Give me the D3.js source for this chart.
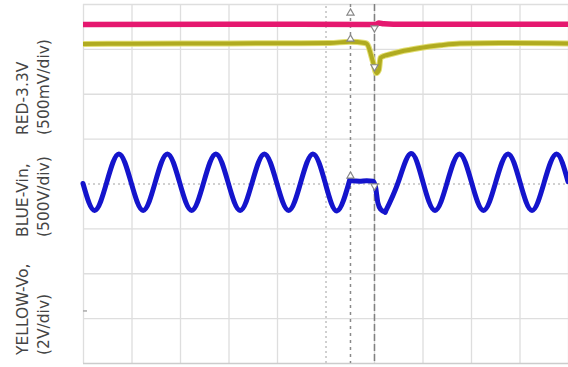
<!DOCTYPE html>
<html><head><meta charset="utf-8">
<script src="https://cdn.jsdelivr.net/npm/d3@7"></script>
<style>html,body{margin:0;padding:0;background:#fff;}</style>
</head><body>
<svg id="c" width="568" height="367"></svg>
<script>
// ---- data (x in horizontal divisions 0..10, y in vertical divisions -4..4) ----
const xDivs = [0,1,2,3,4,5,6,7,8,9,10];
const yDivs = [-4,-3,-2,-1,0,1,2,3,4];
const cursorX = [5.515, 6.01];
const labelLine1 = ["YELLOW-Vo,", "BLUE-Vin,", "RED-3.3V"];
const labelLine2 = ["(2V/div)", "(500V/div)", "(500mV/div)"];

const redTrace = [[0,3.545],[3,3.55],[5.9,3.545],[6.05,3.55],[6.1,3.575],[6.2,3.56],[6.4,3.55],[8,3.55],[10,3.55]];
const yellowTrace = [[0,3.11],[1,3.115],[2.41,3.12],[4,3.125],[5.09,3.13],[5.5,3.16],[5.81,3.13],[5.856,3.11],
  [5.979,2.71],[6.05,2.46],[6.1,2.53],[6.134,2.8],[6.2,2.84],[6.27,2.863],[6.536,2.937],[6.948,3.02],
  [7.36,3.08],[7.77,3.12],[8.6,3.13],[10,3.12]];
const blueBefore = [[0,0.0],[0.24,-0.60],[0.49,0.03],[0.74,0.66],[0.99,0.03],[1.24,-0.60],[1.49,0.03],[1.74,0.66],
  [1.99,0.03],[2.24,-0.60],[2.49,0.03],[2.74,0.66],[2.99,0.03],[3.24,-0.60],[3.49,0.03],[3.74,0.66],[3.99,0.03],
  [4.24,-0.60],[4.49,0.03],[4.74,0.66],[4.99,0.03],[5.24,-0.61],[5.515,0.14]];
const blueDip = [[5.515,0.14],[5.55,0.06],[5.7,0.05],[5.85,0.06],[5.98,0.05],[6.03,-0.07],[6.08,-0.43],[6.14,-0.58],[6.23,-0.64]];
const blueAfter = [[6.23,-0.64],[6.5,0.03],[6.763,0.67],[7.01,0.03],[7.258,-0.60],[7.51,0.03],[7.763,0.66],[8.01,0.03],
  [8.258,-0.60],[8.51,0.03],[8.763,0.66],[9.01,0.03],[9.258,-0.60],[9.51,0.03],[9.763,0.66],[10,0.04]];
const markers1 = [3.80, 3.22, 0.167];
const markers2 = [3.465, 2.60, -0.056];

// ---- drawing ----
const svg = d3.select("#c");
const x = d3.scaleLinear().domain([0,10]).range([83,568]);
const y = d3.scaleLinear().domain([-4,4]).range([363,4]);

svg.append("rect").attr("width",568).attr("height",367).attr("fill","#fff");

// grid via axes
const gx = svg.append("g").attr("transform",`translate(0,${y(-4)})`)
  .call(d3.axisBottom(x).tickValues(xDivs).tickSize(-(y(-4)-y(4))).tickFormat(""));
gx.select(".domain").remove();
gx.selectAll(".tick line").attr("stroke",d=>d===5?"#a0a0a0":"#dedede")
  .attr("stroke-width",d=>d===5?1:1.3).attr("stroke-dasharray",d=>d===5?"2,3":null);
const gy = svg.append("g").attr("transform",`translate(${x(0)},0)`)
  .call(d3.axisLeft(y).tickValues(yDivs).tickSize(-(x(10)-x(0))).tickFormat(""));
gy.select(".domain").remove();
gy.selectAll(".tick line").attr("stroke",d=>d===0?"#a0a0a0":(d===-4?"#cccccc":"#dedede"))
  .attr("stroke-width",d=>d===0?1:1.3).attr("stroke-dasharray",d=>d===0?"2,3":null);

// small ground marker on left edge
svg.append("line").attr("x1",x(0)).attr("x2",x(0)+4).attr("y1",y(-2.84)).attr("y2",y(-2.84))
  .attr("stroke","#aaa").attr("stroke-width",1.5);

// cursors
svg.selectAll(".cur").data(cursorX).join("line").attr("class","cur")
  .attr("x1",d=>x(d)).attr("x2",d=>x(d)).attr("y1",y(4)).attr("y2",y(-4))
  .attr("stroke",(d,i)=>i===0?"#8a8a8a":"#808080").attr("stroke-width",1.5)
  .attr("stroke-dasharray",(d,i)=>i===0?"3,4":"7,3");

const lineNat = d3.line().x(d=>x(d[0])).y(d=>y(d[1])).curve(d3.curveNatural);
const lineMono = d3.line().x(d=>x(d[0])).y(d=>y(d[1])).curve(d3.curveMonotoneX);

// red
svg.append("path").attr("d",lineMono(redTrace)).attr("fill","none")
  .attr("stroke","#e5186f").attr("stroke-width",5.5).attr("stroke-linejoin","round");
// yellow
svg.append("path").attr("d",lineMono(yellowTrace)).attr("fill","none")
  .attr("stroke","#e2de70").attr("stroke-width",6).attr("stroke-linejoin","round");
svg.append("path").attr("d",lineMono(yellowTrace)).attr("fill","none")
  .attr("stroke","#b0ab20").attr("stroke-width",4).attr("stroke-linejoin","round");
// blue
const blueG = svg.append("g").attr("fill","none").attr("stroke","#1414cc").attr("stroke-width",5)
  .attr("stroke-linejoin","round").attr("stroke-linecap","round");
blueG.append("path").attr("d",lineNat(blueBefore));
blueG.append("path").attr("d",lineMono(blueDip));
blueG.append("path").attr("d",lineNat(blueAfter));

// cursor markers
const tri = d3.symbol().type(d3.symbolTriangle).size(22);
markers1.forEach(v=>{
  svg.append("path").attr("d",tri()).attr("transform",`translate(${x(cursorX[0])},${y(v)})`)
    .attr("fill","#fff").attr("stroke","#888").attr("stroke-width",1.2);
});
markers2.forEach(v=>{
  svg.append("path").attr("d",tri()).attr("transform",`translate(${x(cursorX[1])},${y(v)}) rotate(180)`)
    .attr("fill","#fff").attr("stroke","#888").attr("stroke-width",1.2);
});

// rotated axis label
const starts = [355, 237, 135];
const lg = svg.append("g").attr("transform","rotate(-90)")
  .attr("font-family","'DejaVu Sans', sans-serif").attr("font-size",15.5).attr("fill","#444");
labelLine1.forEach((t,i)=>lg.append("text").attr("x",-starts[i]).attr("y",28).text(t));
labelLine2.forEach((t,i)=>lg.append("text").attr("x",-starts[i]).attr("y",49).text(t));
</script>
</body></html>
